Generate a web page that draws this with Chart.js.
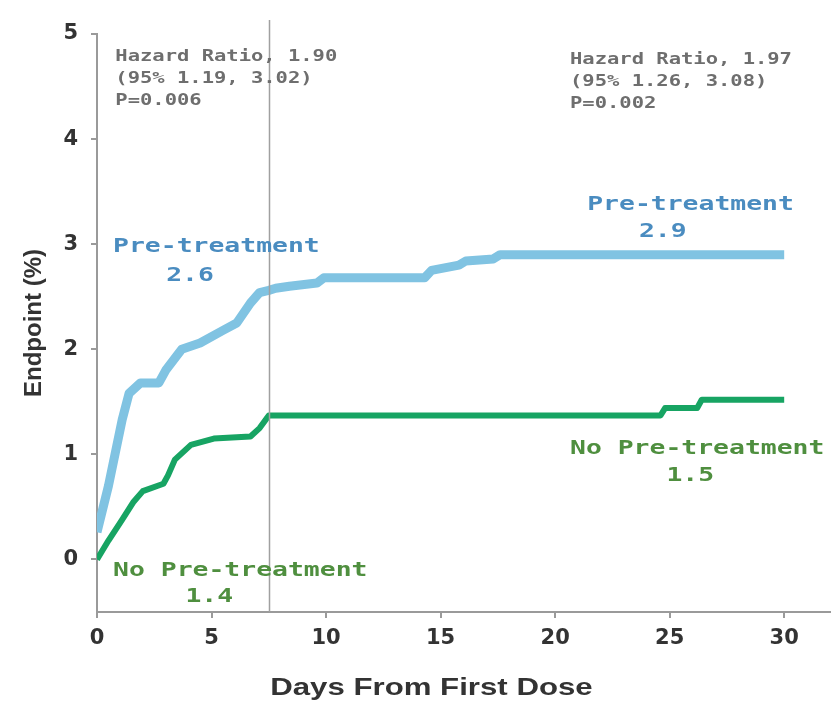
<!DOCTYPE html>
<html>
<head>
<meta charset="utf-8">
<script src="https://cdn.jsdelivr.net/npm/chart.js@4/dist/chart.umd.min.js"></script>
<style>
  html, body { margin: 0; padding: 0; background: #ffffff; }
  #wrap { width: 832px; height: 704px; }
</style>
</head>
<body>
<div id="wrap"><canvas id="chart" width="832" height="704"></canvas></div>
<script>
// Cumulative endpoint rate (%) by day, pre-treatment group
const preDays = [0, 0.5, 1.1, 1.4, 1.9, 2.7, 3.0, 3.7, 4.5, 5.5, 6.1, 6.7, 7.1, 7.5, 7.8, 8.4, 9.6, 9.9, 14.3, 14.6, 15.8, 16.1, 17.3, 17.6, 30];
const preRate = [0.26, 0.7, 1.33, 1.58, 1.68, 1.68, 1.8, 2.0, 2.06, 2.18, 2.25, 2.44, 2.54, 2.56, 2.58, 2.6, 2.63, 2.68, 2.68, 2.75, 2.8, 2.84, 2.86, 2.9, 2.9];

// Cumulative endpoint rate (%) by day, no pre-treatment group
const noPreDays = [0, 0.5, 1.1, 1.6, 2.0, 2.9, 3.1, 3.4, 4.1, 5.1, 6.7, 7.1, 7.5, 24.6, 24.8, 26.2, 26.4, 30];
const noPreRate = [0, 0.18, 0.38, 0.55, 0.65, 0.72, 0.8, 0.95, 1.09, 1.15, 1.17, 1.25, 1.37, 1.37, 1.44, 1.44, 1.52, 1.52];

// Axis ticks
const xTickValues = [0, 5, 10, 15, 20, 25, 30];
const yTickValues = [0, 1, 2, 3, 4, 5];

// Landmark day separating the two analysis windows
const dividerDay = 7.5;

// Statistics text for each window
const earlyStats = ['Hazard Ratio, 1.90', '(95% 1.19, 3.02)', 'P=0.006'];
const lateStats = ['Hazard Ratio, 1.97', '(95% 1.26, 3.08)', 'P=0.002'];

const preName = 'Pre-treatment';
const noPreName = 'No Pre-treatment';

const PRE_COLOR = '#80c3e2';
const PRE_TEXT = '#4a8cc0';
const NOPRE_COLOR = '#17a463';
const NOPRE_TEXT = '#4f8f3f';

function valueAt(days, rates, day) {
  let v = rates[0];
  for (let i = 0; i < days.length; i++) if (days[i] <= day) v = rates[i];
  return v;
}

// Text placement: anchor in data units, horizontal stretch, alignment
const blocks = [
  { lines: earlyStats, x: 0.8, y: 4.78, font: 'bold 16px "DejaVu Sans Mono"', sx: 1.28, color: '#6e6e6e', step: 22, align: 'left' },
  { lines: lateStats, x: 20.65, y: 4.75, font: 'bold 16px "DejaVu Sans Mono"', sx: 1.28, color: '#6e6e6e', step: 22, align: 'left' }
];
const curveLabels = [
  { text: preName, x: 0.7, y: 2.97, color: PRE_TEXT, align: 'left' },
  { text: valueAt(preDays, preRate, dividerDay).toFixed(1), x: 4.06, y: 2.70, color: PRE_TEXT, align: 'center' },
  { text: preName, x: 21.4, y: 3.37, color: PRE_TEXT, align: 'left' },
  { text: preRate[preRate.length - 1].toFixed(1), x: 24.7, y: 3.12, color: PRE_TEXT, align: 'center' },
  { text: noPreName, x: 20.65, y: 1.05, color: NOPRE_TEXT, align: 'left' },
  { text: noPreRate[noPreRate.length - 1].toFixed(1), x: 25.9, y: 0.79, color: NOPRE_TEXT, align: 'center' },
  { text: noPreName, x: 0.7, y: -0.11, color: NOPRE_TEXT, align: 'left' },
  { text: valueAt(noPreDays, noPreRate, dividerDay).toFixed(1), x: 4.9, y: -0.36, color: NOPRE_TEXT, align: 'center' }
];

function stretchedText(ctx, str, px, py, sx, align) {
  const w = ctx.measureText(str).width * sx;
  const left = align === 'center' ? px - w / 2 : px;
  ctx.save();
  ctx.translate(left, py);
  ctx.scale(sx, 1);
  ctx.textAlign = 'left';
  ctx.textBaseline = 'middle';
  ctx.fillText(str, 0, 0);
  ctx.restore();
}

const overlayPlugin = {
  id: 'overlay',
  afterDatasetsDraw(chart) {
    const { ctx, chartArea, scales: { x, y } } = chart;
    ctx.save();

    // vertical divider
    const dx = Math.round(x.getPixelForValue(dividerDay)) + 0.5;
    ctx.strokeStyle = '#a0a0a0';
    ctx.lineWidth = 1.5;
    ctx.beginPath();
    ctx.moveTo(dx, chartArea.top - 14);
    ctx.lineTo(dx, chartArea.bottom);
    ctx.stroke();

    // statistics blocks
    blocks.forEach(b => {
      ctx.font = b.font;
      ctx.fillStyle = b.color;
      const px = x.getPixelForValue(b.x);
      const py = y.getPixelForValue(b.y);
      b.lines.forEach((line, i) => stretchedText(ctx, line, px, py + i * b.step, b.sx, b.align));
    });

    // curve labels
    ctx.font = 'bold 19px "DejaVu Sans Mono"';
    curveLabels.forEach(l => {
      ctx.fillStyle = l.color;
      stretchedText(ctx, l.text, x.getPixelForValue(l.x), y.getPixelForValue(l.y), 1.39, l.align);
    });

    // x-axis title
    ctx.font = 'bold 24px "Liberation Sans"';
    ctx.fillStyle = '#333333';
    stretchedText(ctx, 'Days From First Dose', x.getPixelForValue(14.6), 688, 1.3, 'center');

    ctx.restore();
  }
};

const tickFont = { family: '"DejaVu Sans"', weight: 'bold', size: 21 };
const axisGrey = '#9a9a9a';

new Chart(document.getElementById('chart'), {
  type: 'line',
  data: {
    datasets: [
      {
        label: preName,
        data: preDays.map((d, i) => ({ x: d, y: preRate[i] })),
        borderColor: PRE_COLOR,
        borderWidth: 9,
        pointRadius: 0,
        tension: 0,
        borderJoinStyle: 'round'
      },
      {
        label: noPreName,
        data: noPreDays.map((d, i) => ({ x: d, y: noPreRate[i] })),
        borderColor: NOPRE_COLOR,
        borderWidth: 6,
        pointRadius: 0,
        tension: 0,
        borderJoinStyle: 'round'
      }
    ]
  },
  options: {
    responsive: false,
    animation: false,
    devicePixelRatio: 1,
    layout: { padding: { top: 34, right: 2, left: 0, bottom: 0 } },
    plugins: { legend: { display: false }, tooltip: { enabled: false } },
    scales: {
      x: {
        type: 'linear',
        min: 0,
        max: 32,
        afterBuildTicks: s => { s.ticks = xTickValues.map(v => ({ value: v })); },
        afterFit: s => { s.height = 92; },
        grid: { drawOnChartArea: false, drawTicks: true, tickLength: 6, color: axisGrey, lineWidth: 2 },
        border: { color: axisGrey, width: 2 },
        ticks: { font: tickFont, color: '#333333', padding: 8, maxRotation: 0, autoSkip: false }
      },
      y: {
        type: 'linear',
        min: -0.5,
        max: 5,
        afterBuildTicks: s => { s.ticks = yTickValues.map(v => ({ value: v })); },
        afterFit: s => { s.width = 97; },
        grid: { drawOnChartArea: false, drawTicks: true, tickLength: 6, color: axisGrey, lineWidth: 2 },
        border: { color: axisGrey, width: 2 },
        ticks: { font: tickFont, color: '#333333', padding: 13 },
        title: {
          display: true,
          text: 'Endpoint (%)',
          font: { family: '"Liberation Sans"', weight: 'bold', size: 24 },
          color: '#333333',
          padding: { top: 20, bottom: 0 }
        }
      }
    }
  },
  plugins: [overlayPlugin]
});
</script>
</body>
</html>
